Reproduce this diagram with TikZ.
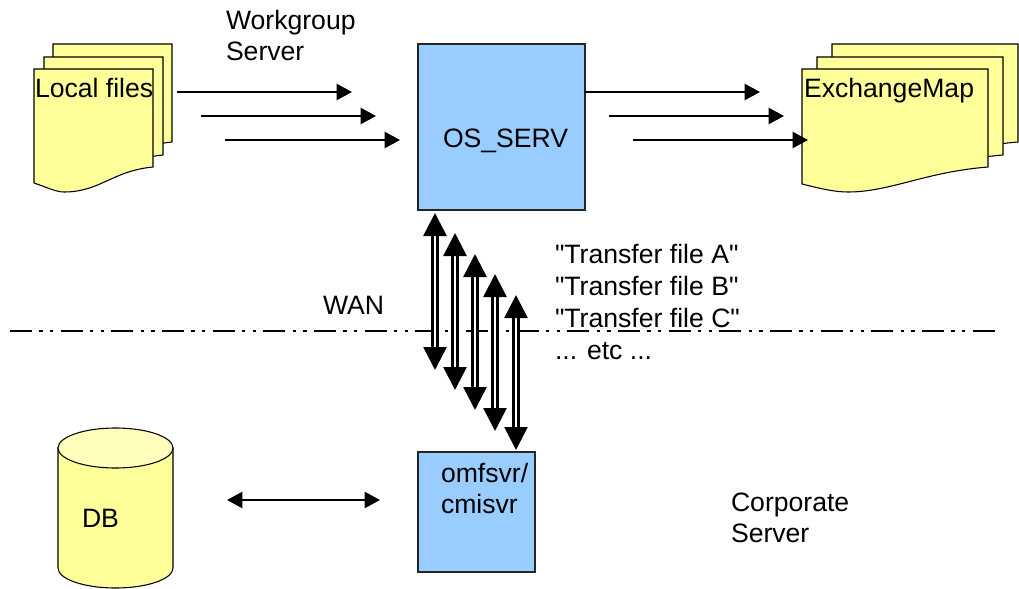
\documentclass[tikz,border=0pt]{standalone}
\usepackage{fontspec}
\setmainfont[Ligatures=TeXOff]{Liberation Sans}
\usetikzlibrary{arrows.meta}
\tikzset{
  x=0.75pt, y=-0.75pt,
  sheet/.style={draw=black, line width=0.8pt, fill=sheetyellow},
  serverbox/.style={draw=black!85, line width=0.9pt, fill=serverblue, rectangle, inner sep=0pt},
  label/.style={inner sep=0pt, outer sep=0pt, anchor=base west, font=\fontsize{19.95}{23}\selectfont},
  flow/.style={draw=black, line width=1.8pt, -{Triangle[length=11.5pt,width=12pt]}},
  bothflow/.style={draw=black, line width=1.8pt, {Triangle[length=11.5pt,width=12pt]}-{Triangle[length=11.5pt,width=12pt]}},
  transfer/.style={draw=black, line width=2pt, double=white, double distance=2.1pt, {Triangle[length=17.25pt,width=17.25pt]}-{Triangle[length=17.25pt,width=17.25pt]}},
  wan/.style={draw=black, line width=2pt, dash pattern=on 16.5pt off 5.5pt on 2.5pt off 5.5pt on 2.5pt off 5.5pt}
}
\definecolor{sheetyellow}{HTML}{FFFF99}
\definecolor{servertop}{HTML}{FFFFBB}
\definecolor{serverblue}{HTML}{99CCFF}
\newcommand{\localsheet}[1]{\draw[sheet,shift={#1}] (34,69) -- (153,69) -- (153,167) .. controls (112,171) and (100,192) .. (64,192) .. controls (56,192) and (46,187) .. (34,183) -- cycle;}
\newcommand{\mapsheet}[1]{\draw[sheet,shift={#1}] (802,69) -- (988,69) -- (988,167) .. controls (925,172) and (890,192) .. (848,192) .. controls (835,192) and (822,189) .. (802,184) -- cycle;}
\begin{document}
\begin{tikzpicture}
\useasboundingbox (0,0) rectangle (1019,588);
% document stacks
\localsheet{(19,-25)}
\localsheet{(10,-12)}
\localsheet{(0,0)}
\mapsheet{(30,-25)}
\mapsheet{(15,-12)}
\mapsheet{(0,0)}
% servers
\node[serverbox, minimum width=125.25pt, minimum height=124.5pt] (osserv) at (501.5,127) {};
\node[serverbox, minimum width=87.75pt, minimum height=90pt] (omfsvr) at (476.5,512) {};
% database
\draw[sheet] (58,448) -- (58,568) arc[start angle=180,end angle=360,x radius=57.5,y radius=-20] -- (173,448) -- cycle;
\draw[sheet, fill=servertop] (115.5,448) ellipse[x radius=57.5, y radius=20];
% WAN line
\coordinate (wanL) at (10,331);
\coordinate (wanR) at (995,331);
\draw[wan] (wanL) -- (wanR);
% labels
\node[label] (lblLocal) at (35,98) {Local files};
\node[label] (lblMap) at (804,98) {ExchangeMap};
\node[label] (lblWork1) at (226,30) {Workgroup};
\node[label] (lblWork2) at (226,61) {Server};
\node[label] (lblOS) at (443,147) {OS\_SERV};
\node[label] (lblWAN) at (323,314) {WAN};
\node[label] (lblA) at (555,263) {"Transfer file A"};
\node[label] (lblB) at (555,295) {"Transfer file B"};
\node[label] (lblC) at (555,327) {"Transfer file C"};
\node[label] (lblE) at (555,359) {... etc ...};
\node[label] (lblO1) at (441,482) {omfsvr/};
\node[label] (lblO2) at (441,513) {cmisvr};
\node[label] (lblDB) at (82,527) {DB};
\node[label] (lblC1) at (731,511) {Corporate};
\node[label] (lblC2) at (731,542) {Server};
% horizontal flows
\foreach \n/\xa/\xb/\y in {a/177/352/92,b/201/376/116,c/225/400/140,d/585/760/92,e/609/784/116,f/633/808/140}{
  \coordinate (s\n) at (\xa,\y);
  \coordinate (t\n) at (\xb,\y);
  \draw[flow] (s\n) -- (t\n);
}
\coordinate (dbEnd) at (227,500);
\coordinate (omfEnd) at (380,500);
\draw[bothflow] (dbEnd) -- (omfEnd);
% transfer arrows
\foreach \n/\x/\ya/\yb in {a/435/213/370,b/455/233/390,c/475/254/410,d/495/274/431,e/516/295/450}{
  \coordinate (up\n) at (\x,\ya);
  \coordinate (dn\n) at (\x,\yb);
  \draw[transfer] (up\n) -- (dn\n);
}
\end{tikzpicture}
\end{document}
